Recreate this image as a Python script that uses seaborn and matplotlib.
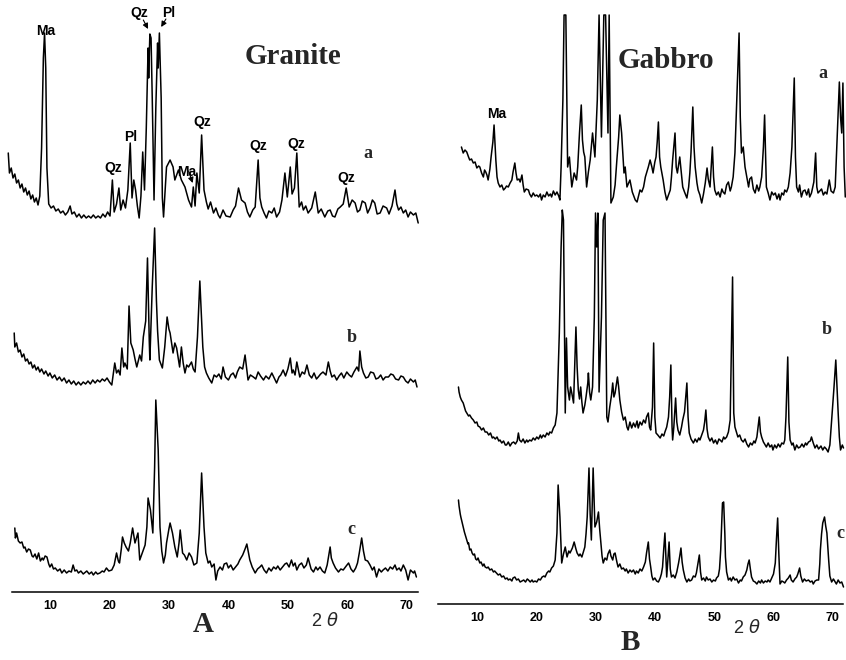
import numpy as np
import pandas as pd
import matplotlib
matplotlib.use("Agg")
import matplotlib.pyplot as plt
import seaborn as sns

# ---------------------------------------------------------------------------
# XRD patterns (2-theta in degrees, intensity in arbitrary recorder units)
# ---------------------------------------------------------------------------
GRANITE_A = [(3.0, 65), (3.2, 45), (3.5, 50), (3.8, 40), (4.1, 44), (4.4, 35), (4.7, 38), (5.0, 30), (5.3, 34), (5.6, 26),
             (5.9, 30), (6.2, 23), (6.5, 27), (6.8, 19), (7.1, 23), (7.4, 16), (7.7, 20), (8.0, 13), (8.3, 22), (8.6, 70),
             (8.9, 160), (9.1, 185), (9.3, 150), (9.5, 50), (9.8, 14), (10.2, 10), (10.6, 12), (11.0, 7), (11.4, 9), (11.8, 5),
             (12.2, 7), (12.6, 3), (13.0, 6), (13.4, 12), (13.7, 4), (14.1, 6), (14.5, 1), (14.9, 4), (15.3, 0), (15.7, 3),
             (16.1, 0), (16.5, 2), (16.9, 0), (17.3, 3), (17.7, 0), (18.1, 2), (18.5, 0), (18.9, 4), (19.3, 1), (19.7, 6),
             (20.1, 2), (20.5, 38), (20.8, 6), (21.2, 14), (21.6, 30), (21.9, 8), (22.3, 18), (22.7, 10), (23.1, 28), (23.5, 75),
             (23.8, 20), (24.1, 38), (24.4, 28), (24.7, 12), (25.0, 0), (25.3, 22), (25.6, 66), (25.9, 28), (26.2, 90), (26.5, 170),
             (26.6, 140), (26.8, 184), (27.0, 180), (27.2, 120), (27.5, 18), (27.8, 110), (28.1, 175), (28.2, 150), (28.4, 185), (28.7, 120),
             (28.9, 20), (29.1, 1),
             (29.6, 51), (30.2, 58), (30.7, 51), (31.0, 38), (31.6, 48), (32.1, 38), (32.7, 31), (33.3, 18), (33.8, 11), (34.1, 31),
             (34.4, 12), (34.7, 45), (35.1, 25), (35.5, 83), (35.9, 28), (36.3, 16), (36.6, 9), (37.0, 16), (37.5, 5), (37.9, 10),
             (38.3, 3), (38.6, 0), (39.1, 8), (39.6, 2), (40.3, 1), (40.8, 8), (41.2, 12), (41.7, 30), (42.2, 18), (42.8, 15),
             (43.2, 6), (43.6, 1), (44.1, 8), (44.5, 11), (45.0, 58), (45.3, 20), (45.6, 11), (46.0, 5), (46.4, 0), (46.8, 7),
             (47.3, 5), (47.7, 10), (48.1, 1), (48.6, 6), (49.0, 18), (49.5, 45), (49.9, 21), (50.4, 51), (50.7, 24), (51.1, 30),
             (51.5, 65), (51.9, 11), (52.3, 16), (52.6, 8), (53.0, 12), (53.4, 5), (54.0, 10), (54.6, 26), (55.1, 5), (55.6, 9),
             (56.2, 1), (56.7, 7), (57.1, 8), (57.5, 2), (57.9, 1), (58.4, 9), (58.8, 11), (59.3, 14), (59.8, 30), (60.3, 11),
             (60.8, 18), (61.3, 15), (61.7, 6), (62.1, 8), (62.5, 17), (63.0, 15), (63.4, 5), (63.8, 10), (64.2, 18), (64.6, 15),
             (65.0, 4), (65.5, 5), (66.0, 12), (66.6, 10), (67.0, 4), (67.5, 12), (68.0, 28), (68.3, 14), (68.6, 8), (69.0, 11),
             (69.4, 5), (69.8, 8), (70.2, 1), (70.6, 6), (71.1, 3), (71.5, 5), (71.9, -5)]

GRANITE_B = [(4.0, 48), (4.1, 34), (4.4, 38), (4.7, 29), (5.0, 31), (5.3, 24), (5.6, 27), (5.9, 20), (6.2, 22), (6.5, 17),
             (6.8, 19), (7.1, 13), (7.4, 16), (7.7, 11), (8.0, 14), (8.3, 9), (8.6, 12), (9.0, 7), (9.3, 10), (9.7, 5),
             (10.0, 8), (10.4, 3), (10.8, 6), (11.2, 1), (11.6, 4), (12.0, 0), (12.4, 3), (12.8, -2), (13.2, 1), (13.6, -3),
             (14.0, 0), (14.4, -4), (14.8, -1), (15.2, -4), (15.6, -1), (16.0, -3), (16.4, 0), (16.8, -3), (17.2, 1), (17.6, -2),
             (18.0, 1), (18.4, -1), (18.8, 2), (19.2, 0), (19.6, 3), (20.0, -1), (20.4, -4), (20.9, 18), (21.2, 8), (21.5, 11),
             (21.8, 6), (22.1, 33), (22.4, 14), (22.6, 18), (23.0, 12), (23.3, 75), (23.6, 38), (24.0, 31), (24.3, 22), (24.6, 14),
             (25.1, 26), (25.4, 20), (25.7, 44), (26.1, 60), (26.4, 123), (26.7, 40), (26.8, 21), (27.2, 94), (27.6, 153), (27.9, 81),
             (28.1, 50), (28.4, 21), (28.9, 13), (29.3, 34), (29.7, 64), (30.0, 52), (30.2, 48), (30.5, 36), (30.7, 28), (31.0, 38),
             (31.3, 33), (31.8, 14), (32.1, 34), (32.4, 18), (32.7, 8), (33.0, 16), (33.3, 14), (33.8, 19), (34.1, 12), (34.4, 9),
             (34.8, 44), (35.2, 100), (35.5, 60), (35.7, 34), (36.0, 14), (36.3, 8), (36.7, 3), (37.2, -2), (37.6, 6), (38.0, 4),
             (38.4, 7), (38.8, 2), (39.1, 14), (39.5, 4), (40.0, 1), (40.4, 6), (40.8, 8), (41.2, 3), (41.5, 9), (41.9, 14),
             (42.4, 12), (42.8, 26), (43.3, 1), (43.7, 6), (44.2, 4), (44.6, 2), (45.0, 9), (45.4, 5), (45.9, 1), (46.3, 5),
             (46.8, 2), (47.3, 8), (47.7, 3), (48.1, -2), (48.5, 4), (48.8, 6), (49.2, 11), (49.6, 5), (50.0, 12), (50.4, 23),
             (50.7, 8), (50.9, 11), (51.2, 6), (51.5, 19), (52.0, 4), (52.4, 9), (52.8, 7), (53.2, 16), (53.6, 6), (54.0, 3),
             (54.4, 8), (54.8, 2), (55.1, 4), (55.5, 7), (55.9, 9), (56.4, 6), (56.8, 19), (57.1, 10), (57.4, 4), (57.8, 6),
             (58.2, 1), (58.6, 5), (59.0, 8), (59.4, 3), (59.9, 9), (60.3, 6), (60.7, 4), (61.1, 9), (61.6, 14), (61.9, 10),
             (62.1, 30), (62.4, 14), (62.7, 8), (63.1, 3), (63.5, 4), (63.9, 9), (64.4, 8), (64.8, 2), (65.2, 3), (65.6, 6),
             (66.0, 1), (66.4, 4), (66.9, 4), (67.3, 7), (67.7, 6), (68.1, 2), (68.6, 1), (69.0, 5), (69.4, 4), (69.8, 0),
             (70.2, -2), (70.6, 2), (71.1, -1), (71.4, 1), (71.7, -6)]

GRANITE_C = [(4.1, 45), (4.2, 35), (4.4, 40), (4.7, 32), (5.0, 30), (5.3, 31), (5.6, 25), (5.8, 26), (6.1, 21), (6.4, 24),
             (6.7, 23), (7.0, 17), (7.2, 16), (7.5, 19), (7.8, 14), (8.1, 20), (8.4, 12), (8.7, 15), (8.9, 13), (9.2, 17),
             (9.5, 16), (9.8, 9), (10.0, 6), (10.3, 9), (10.6, 4), (10.9, 5), (11.3, 2), (11.7, 4), (12.0, 0), (12.4, 3),
             (12.8, 0), (13.2, 2), (13.6, 1), (13.9, 8), (14.2, 2), (14.5, 3), (14.8, 0), (15.2, 2), (15.6, -1), (16.0, 1),
             (16.2, 2), (16.6, -1), (17.0, 1), (17.3, -2), (17.7, 1), (18.0, -1), (18.4, 0), (18.8, 2), (19.1, 1), (19.5, 5),
             (19.9, 2), (20.4, 3), (20.8, 8), (21.2, 20), (21.5, 12), (21.7, 10), (22.0, 24), (22.2, 36), (22.5, 30), (22.8, 26),
             (23.2, 22), (23.5, 30), (23.9, 45), (24.3, 30), (24.8, 40), (25.1, 13), (25.4, 18), (25.7, 23), (26.0, 28), (26.3, 46),
             (26.5, 75), (26.9, 63), (27.3, 40), (27.6, 106), (27.8, 173), (28.2, 123), (28.5, 46), (28.8, 22), (29.1, 10), (29.4, 18),
             (29.6, 30), (30.0, 44), (30.2, 50), (30.6, 40), (31.0, 26), (31.4, 16), (31.7, 30), (31.9, 43), (32.3, 20), (32.6, 18),
             (33.0, 13), (33.4, 20), (33.8, 16), (34.2, 8), (34.7, 10), (35.1, 40), (35.5, 100), (35.9, 46), (36.2, 20), (36.6, 10),
             (36.9, 12), (37.2, 6), (37.6, 9), (37.9, -7), (38.2, 2), (38.6, 6), (39.0, 3), (39.3, 9), (39.7, 10), (40.0, 5),
             (40.4, 8), (40.8, 3), (41.2, 6), (41.6, 9), (41.9, 13), (42.4, 18), (42.8, 24), (43.1, 29), (43.6, 13), (44.0, 6),
             (44.5, 0), (44.9, 4), (45.3, 6), (45.6, 8), (46.0, 3), (46.4, 0), (46.8, 5), (47.2, 2), (47.6, 6), (48.0, 4),
             (48.3, 7), (48.7, 3), (49.1, 6), (49.5, 9), (49.8, 10), (50.2, 6), (50.6, 13), (50.9, 7), (51.2, 10), (51.5, 3),
             (51.9, 8), (52.3, 10), (52.7, 5), (53.1, 8), (53.4, 15), (53.9, 4), (54.3, 1), (54.7, 6), (55.0, 3), (55.4, 6),
             (55.8, 2), (56.2, 0), (56.6, 8), (57.1, 26), (57.3, 15), (57.6, 10), (58.0, 5), (58.5, 1), (58.9, 4), (59.3, 3),
             (59.8, 7), (60.2, 10), (60.6, 4), (61.0, 1), (61.4, 5), (61.7, 10), (62.0, 20), (62.4, 35), (62.7, 22), (63.0, 13),
             (63.4, 12), (63.8, 8), (64.2, 3), (64.5, 6), (64.9, -4), (65.3, 4), (65.7, 1), (66.0, 3), (66.4, 5), (66.8, 2),
             (67.2, 6), (67.6, 4), (68.0, 8), (68.3, 3), (68.7, 5), (69.0, 2), (69.4, 8), (69.8, 3), (70.2, -7), (70.6, 3),
             (71.1, 0), (71.3, 2), (71.6, -4)]

GABBRO_A = [(7.4, 50), (7.7, 44), (8.0, 47), (8.3, 45), (8.6, 40), (8.8, 37), (9.1, 38), (9.4, 34), (9.7, 35), (10.0, 29),
            (10.3, 31), (10.5, 30), (10.8, 24), (11.1, 20), (11.3, 27), (11.5, 25), (11.7, 22), (11.9, 17), (12.2, 28), (12.4, 40),
            (12.7, 55), (12.9, 72), (13.1, 50), (13.2, 37), (13.4, 20), (13.6, 14), (13.9, 10), (14.2, 12), (14.5, 7), (14.8, 9),
            (15.0, 11), (15.3, 10), (15.6, 14), (15.9, 17), (16.1, 25), (16.4, 34), (16.6, 24), (16.8, 17), (17.1, 18), (17.3, 15),
            (17.6, 22), (17.8, 12), (18.0, 5), (18.3, 8), (18.7, 7), (18.9, 3), (19.2, 0), (19.5, 4), (19.8, 1), (20.1, 2),
            (20.4, 0), (20.7, 3), (20.9, -3), (21.2, 2), (21.5, 0), (21.8, 5), (22.1, 1), (22.4, 3), (22.6, 0), (22.9, 6),
            (23.2, 2), (23.5, 5), (23.8, 1), (24.0, -3), (24.2, 30), (24.5, 97), (24.7, 182), (25.0, 182), (25.3, 30), (25.6, 40),
            (26.0, 10), (26.4, 24), (26.8, 17), (27.0, 30), (27.3, 64), (27.6, 92), (27.8, 57), (28.0, 45), (28.2, 40), (28.5, 10),
            (28.8, 25), (29.1, 37), (29.5, 64), (29.9, 40), (30.3, 97), (30.6, 182), (31.0, 60), (31.4, 182), (31.7, 182), (32.1, 64),
            (32.3, 182), (32.6, -6), (33.0, 0), (33.3, 12), (33.6, 37), (33.9, 60), (34.1, 82), (34.4, 64), (34.8, 24), (35.0, 30),
            (35.3, 10), (35.8, 17), (36.2, 5), (36.7, -3), (37.0, -5), (37.3, 2), (37.5, 7), (37.8, 5), (38.1, 10), (38.4, 20),
            (38.6, 24), (38.9, 30), (39.2, 37), (39.5, 30), (39.7, 24), (40.0, 35), (40.2, 40), (40.4, 55), (40.6, 75), (40.8, 40),
            (41.0, 30), (41.4, 17), (41.7, 5), (42.0, -3), (42.3, 2), (42.6, 7), (42.8, 20), (43.0, 37), (43.2, 50), (43.4, 64),
            (43.6, 30), (43.8, 24), (44.0, 32), (44.2, 40), (44.5, 22), (44.7, 10), (45.0, 5), (45.4, -1), (45.7, 10), (45.9, 24),
            (46.1, 45), (46.4, 90), (46.6, 50), (46.8, 30), (47.1, 14), (47.3, 7), (47.6, 2), (47.9, -6), (48.2, 3), (48.5, 14),
            (48.8, 29), (49.0, 18), (49.3, 10), (49.5, 30), (49.7, 50), (49.9, 20), (50.1, 7), (50.4, 2), (50.7, 5), (51.0, 0),
            (51.3, 8), (51.5, 5), (51.8, 3), (52.1, 12), (52.4, 15), (52.7, 6), (52.9, 10), (53.2, 20), (53.5, 44), (53.9, 114),
            (54.2, 164), (54.4, 80), (54.6, 44), (54.9, 50), (55.2, 30), (55.5, 20), (55.8, 10), (56.0, 18), (56.3, 20), (56.6, 8),
            (56.9, 4), (57.2, 12), (57.5, 6), (57.7, 10), (58.0, 20), (58.3, 50), (58.5, 82), (58.8, 10), (59.1, 4), (59.4, -3),
            (59.7, 5), (60.0, 2), (60.3, 4), (60.6, -2), (60.9, 3), (61.1, -3), (61.4, 4), (61.7, 2), (61.9, 7), (62.2, 5),
            (62.5, 10), (62.8, 24), (63.1, 50), (63.5, 119), (63.7, 40), (63.9, 10), (64.2, 5), (64.4, 12), (64.7, 0), (65.0, 6),
            (65.3, 7), (65.6, 2), (65.9, 8), (66.1, 0), (66.4, 4), (66.8, 15), (67.1, 44), (67.3, 10), (67.5, 4), (67.8, 6),
            (68.1, 8), (68.4, 2), (68.7, 5), (69.0, 3), (69.4, 17), (69.7, 6), (70.1, 4), (70.4, 10), (70.6, 40), (70.8, 70),
            (71.1, 115), (71.3, 80), (71.5, 64), (71.7, 114), (71.9, 30), (72.1, 0)]

GABBRO_B = [(6.9, 60), (7.0, 55), (7.2, 50), (7.4, 47), (7.7, 44), (7.9, 40), (8.1, 36), (8.3, 34), (8.6, 31), (8.8, 32),
            (9.1, 29), (9.4, 27), (9.7, 24), (10.0, 25), (10.2, 21), (10.5, 20), (10.8, 17), (11.1, 19), (11.4, 15), (11.7, 15),
            (12.0, 12), (12.3, 14), (12.6, 9), (12.8, 10), (13.1, 8), (13.4, 10), (13.7, 6), (13.9, 7), (14.2, 4), (14.5, 6),
            (14.8, 2), (15.0, 2), (15.3, 5), (15.6, 1), (15.9, 4), (16.2, 5), (16.5, 3), (16.8, 6), (17.0, 14), (17.2, 7),
            (17.5, 5), (17.8, 8), (18.1, 4), (18.4, 7), (18.6, 5), (18.9, 7), (19.2, 6), (19.5, 9), (19.8, 7), (20.1, 10),
            (20.4, 8), (20.7, 12), (20.9, 9), (21.2, 12), (21.5, 10), (21.8, 14), (22.1, 12), (22.3, 15), (22.6, 14), (22.9, 19),
            (23.2, 22), (23.5, 34), (23.9, 114), (24.2, 200), (24.4, 237), (24.6, 227), (24.9, 34), (25.1, 109), (25.3, 60), (25.6, 47),
            (25.8, 60), (26.0, 54), (26.3, 44), (26.7, 120), (26.9, 80), (27.1, 57), (27.3, 48), (27.5, 60), (27.7, 45), (27.9, 34),
            (28.2, 42), (28.4, 50), (28.7, 64), (28.8, 74), (29.0, 55), (29.2, 47), (29.5, 60), (29.8, 130), (30.0, 234), (30.2, 200),
            (30.4, 234), (30.6, 55), (31.0, 130), (31.3, 227), (31.6, 234), (31.9, 30), (32.1, 25), (32.4, 40), (32.7, 52), (32.9, 64),
            (33.1, 50), (33.3, 54), (33.5, 62), (33.7, 70), (33.9, 60), (34.1, 47), (34.4, 35), (34.7, 27), (35.0, 30), (35.3, 20),
            (35.5, 17), (35.8, 25), (36.1, 19), (36.4, 24), (36.7, 20), (37.0, 26), (37.2, 19), (37.5, 25), (37.8, 22), (38.1, 27),
            (38.4, 24), (38.6, 30), (38.9, 34), (39.1, 20), (39.3, 17), (39.6, 40), (39.8, 104), (40.0, 30), (40.2, 14), (40.5, 12),
            (40.9, 9), (41.2, 13), (41.5, 11), (41.7, 15), (42.0, 20), (42.3, 30), (42.5, 50), (42.7, 82), (42.9, 20), (43.0, 7),
            (43.2, 20), (43.5, 49), (43.7, 25), (43.9, 17), (44.2, 12), (44.5, 20), (44.7, 27), (45.0, 35), (45.2, 50), (45.4, 64),
            (45.6, 30), (45.8, 14), (46.1, 8), (46.5, 4), (46.8, 8), (47.1, 5), (47.4, 9), (47.6, 7), (47.9, 12), (48.2, 17),
            (48.4, 25), (48.6, 37), (48.8, 18), (49.0, 10), (49.3, 6), (49.6, 9), (49.9, 4), (50.2, 7), (50.5, 3), (50.8, 8),
            (51.0, 7), (51.3, 5), (51.6, 10), (51.8, 8), (52.1, 10), (52.4, 15), (52.7, 27), (52.9, 97), (53.1, 170), (53.3, 34),
            (53.5, 20), (53.8, 14), (54.0, 10), (54.3, 12), (54.6, 7), (54.9, 5), (55.2, 8), (55.5, 3), (55.8, 0), (56.1, 4),
            (56.4, 2), (56.7, 6), (56.9, 4), (57.2, 10), (57.4, 20), (57.6, 30), (57.8, 15), (58.0, 10), (58.3, 5), (58.5, 3),
            (58.8, 0), (59.1, 4), (59.4, 0), (59.7, 2), (59.9, -3), (60.2, 2), (60.5, -1), (60.8, 3), (61.1, 0), (61.4, 4),
            (61.7, 3), (61.9, 7), (62.1, 30), (62.4, 90), (62.6, 25), (62.8, 7), (63.1, 2), (63.3, 4), (63.6, -3), (63.9, 2),
            (64.2, -1), (64.5, 0), (64.8, 3), (65.1, 0), (65.4, 4), (65.6, 2), (65.9, 5), (66.2, 6), (66.4, 10), (66.7, 4),
            (67.0, -1), (67.3, 2), (67.6, -2), (68.0, 1), (68.3, -3), (68.6, 0), (68.9, -2), (69.2, -5), (69.5, 2), (69.8, 27),
            (70.0, 45), (70.2, 60), (70.5, 87), (70.7, 60), (70.9, 34), (71.1, 10), (71.3, -3), (71.6, 2), (71.8, -1)]

GABBRO_C = [(6.9, 84), (7.0, 78), (7.2, 70), (7.3, 67), (7.5, 62), (7.7, 57), (7.9, 52), (8.1, 48), (8.3, 44), (8.5, 40),
            (8.6, 41), (8.8, 34), (9.0, 35), (9.2, 31), (9.4, 29), (9.6, 30), (9.8, 25), (10.0, 24), (10.2, 26), (10.5, 21),
            (10.7, 22), (11.0, 18), (11.2, 20), (11.4, 17), (11.7, 16), (11.9, 17), (12.2, 14), (12.5, 15), (12.8, 12), (13.0, 13),
            (13.3, 11), (13.6, 9), (13.9, 10), (14.2, 7), (14.5, 8), (14.8, 5), (15.1, 6), (15.3, 4), (15.6, 5), (15.9, 3),
            (16.1, 6), (16.4, 7), (16.7, 4), (17.0, 5), (17.3, 2), (17.6, 3), (17.9, 4), (18.2, 2), (18.5, 5), (18.7, 4),
            (19.0, 2), (19.3, 4), (19.5, 2), (19.8, 3), (20.1, 2), (20.4, 5), (20.7, 4), (21.0, 7), (21.3, 8), (21.5, 7),
            (21.8, 11), (22.1, 13), (22.3, 12), (22.6, 16), (22.9, 18), (23.2, 24), (23.5, 51), (23.7, 99), (24.0, 67), (24.3, 21),
            (24.6, 30), (24.9, 37), (25.2, 27), (25.5, 33), (25.7, 31), (26.1, 36), (26.4, 42), (26.7, 35), (26.9, 31), (27.2, 28),
            (27.4, 30), (27.7, 27), (28.0, 33), (28.2, 37), (28.4, 50), (28.6, 67), (28.9, 116), (29.1, 70), (29.3, 44), (29.6, 116),
            (29.9, 57), (30.2, 62), (30.5, 72), (30.7, 55), (30.9, 41), (31.1, 28), (31.3, 21), (31.6, 26), (31.9, 24), (32.1, 30),
            (32.4, 34), (32.6, 28), (32.9, 24), (33.1, 30), (33.3, 31), (33.6, 22), (33.8, 17), (34.1, 20), (34.4, 15), (34.7, 16),
            (35.0, 13), (35.2, 15), (35.5, 11), (35.8, 14), (36.1, 12), (36.4, 14), (36.7, 10), (36.9, 13), (37.2, 11), (37.5, 15),
            (37.8, 13), (38.1, 17), (38.4, 22), (38.6, 31), (38.9, 42), (39.1, 25), (39.3, 17), (39.5, 8), (39.7, 4), (40.0, 6),
            (40.3, 3), (40.6, 2), (40.9, 6), (41.1, 10), (41.3, 17), (41.5, 35), (41.7, 51), (41.9, 20), (42.0, 7), (42.2, 25),
            (42.4, 42), (42.6, 15), (42.8, 7), (43.1, 9), (43.4, 6), (43.7, 12), (44.0, 21), (44.2, 28), (44.4, 36), (44.6, 22),
            (44.8, 14), (45.1, 6), (45.4, 2), (45.7, 5), (45.9, 3), (46.2, 4), (46.5, 8), (46.8, 7), (47.0, 11), (47.2, 18),
            (47.5, 29), (47.7, 12), (47.9, 4), (48.2, 6), (48.5, 3), (48.7, 7), (49.0, 4), (49.3, 5), (49.6, 2), (49.9, 4),
            (50.2, 3), (50.4, 6), (50.7, 8), (50.9, 15), (51.1, 34), (51.3, 65), (51.4, 81), (51.6, 82), (51.8, 50), (51.9, 27),
            (52.1, 12), (52.4, 4), (52.7, 6), (52.9, 3), (53.2, 7), (53.5, 4), (53.8, 5), (54.1, 1), (54.4, 4), (54.6, 3),
            (54.9, 7), (55.2, 9), (55.5, 14), (55.7, 20), (55.9, 24), (56.1, 15), (56.3, 7), (56.6, 3), (56.9, 2), (57.2, 0),
            (57.5, 3), (57.8, 1), (58.0, 4), (58.3, 1), (58.6, 3), (58.9, 2), (59.1, 4), (59.4, 2), (59.7, 6), (60.0, 10),
            (60.3, 21), (60.5, 45), (60.7, 66), (60.9, 30), (61.1, 0), (61.4, 3), (61.7, 2), (61.9, 1), (62.2, 4), (62.5, 6),
            (62.8, 9), (63.0, 4), (63.3, 2), (63.6, 5), (63.9, 7), (64.1, 10), (64.4, 16), (64.6, 8), (64.9, 2), (65.2, 5),
            (65.5, 3), (65.9, 4), (66.2, 2), (66.5, 3), (66.7, 0), (67.0, 3), (67.3, 4), (67.6, 4), (67.8, 20), (67.9, 34),
            (68.1, 50), (68.3, 61), (68.6, 67), (68.8, 58), (69.0, 51), (69.3, 24), (69.5, 8), (69.8, 2), (70.1, 5), (70.3, 3),
            (70.6, 0), (70.9, 4), (71.2, 1), (71.5, 2), (71.8, -3)]

# vertical stacking offset of each pattern within its panel
GRANITE_OFFSETS = {"a": 374, "b": 211, "c": 19}
GABBRO_OFFSETS = {"a": 407, "b": 157, "c": 20}

TICKS = [10, 20, 30, 40, 50, 60, 70]
TICK_LABELS = ["10", "20", "30", "40", "50", "60", "70"]

# mineral labels: (text, 2-theta, height in panel units)
GRANITE_PEAK_LABELS = [("Ma", 9.35, 561), ("Qz", 25.0, 579), ("Pl", 30.0, 579), ("Pl", 23.5, 455),
                       ("Qz", 20.6, 424), ("Ma", 33.0, 420), ("Qz", 35.6, 470), ("Qz", 45.1, 446),
                       ("Qz", 51.4, 448), ("Qz", 59.8, 414)]
GABBRO_PEAK_LABELS = [("Ma", 13.4, 490)]

# ---------------------------------------------------------------------------
def to_frame(patterns, offsets):
    rows = []
    for name, pts in patterns.items():
        theta, counts = np.array(pts, dtype=float).T
        rows.append(pd.DataFrame({"theta": theta, "counts": counts,
                                  "stacked": counts + offsets[name], "trace": name}))
    return pd.concat(rows, ignore_index=True)


granite = to_frame({"a": GRANITE_A, "b": GRANITE_B, "c": GRANITE_C}, GRANITE_OFFSETS)
gabbro = to_frame({"a": GABBRO_A, "b": GABBRO_B, "c": GABBRO_C}, GABBRO_OFFSETS)

sns.set_style("white")
plt.rcParams["font.family"] = ["Liberation Sans", "DejaVu Sans"]
plt.rcParams["mathtext.fontset"] = "dejavusans"

W, H = 846, 660
fig = plt.figure(figsize=(W / 100, H / 100), dpi=100)


def add_axes_px(left, right, top, bottom):
    return fig.add_axes([left / W, 1 - bottom / H, (right - left) / W, (bottom - top) / H])


ax_g = add_axes_px(6, 422, 0, 592)
ax_b = add_axes_px(432, 846, 0, 604)

for ax, df, xlim, ylim, bounds in [
    (ax_g, granite, (2.62, 72.54), (0, 592), (3.6, 71.8)),
    (ax_b, gabbro, (2.44, 72.22), (0, 604), (3.45, 71.7)),
]:
    sns.lineplot(data=df, x="theta", y="stacked", units="trace", estimator=None, sort=False,
                 color="black", linewidth=1.1, ax=ax, legend=False)
    ax.set_xlim(*xlim)
    ax.set_ylim(*ylim)
    ax.set_xlabel("")
    ax.set_ylabel("")
    ax.set_yticks([])
    ax.set_xticks(TICKS)
    ax.set_xticklabels(TICK_LABELS, fontsize=9, fontweight="bold")
    ax.tick_params(axis="x", direction="in", length=4, width=1.0, pad=6, colors="black")
    for side in ("left", "right", "top"):
        ax.spines[side].set_visible(False)
    ax.spines["bottom"].set_bounds(*bounds)
    ax.spines["bottom"].set_linewidth(1.1)
    ax.spines["bottom"].set_color("black")
    ax.patch.set_alpha(0)

serif = ["Liberation Serif", "DejaVu Serif"]
label_kw = dict(ha="center", va="center", fontsize=10, fontweight="bold", color="black")

for text, th, y in GRANITE_PEAK_LABELS:
    ax_g.text(th, y, text, **label_kw)
for text, th, y in GABBRO_PEAK_LABELS:
    ax_b.text(th, y, text, **label_kw)


def peak_top(pts, lo, hi, offset):
    arr = np.array(pts, dtype=float)
    sel = arr[(arr[:, 0] >= lo) & (arr[:, 0] <= hi)]
    i = np.argmax(sel[:, 1])
    return sel[i, 0], sel[i, 1] + offset


arrow = dict(arrowstyle="-|>", mutation_scale=8, lw=0.8, color="black", shrinkA=0, shrinkB=0)
qz_th, qz_y = peak_top(GRANITE_A, 26.0, 27.3, GRANITE_OFFSETS["a"])
pl_th, pl_y = peak_top(GRANITE_A, 27.6, 29.0, GRANITE_OFFSETS["a"])
ma_th, ma_y = peak_top(GRANITE_A, 33.5, 34.3, GRANITE_OFFSETS["a"])
ax_g.annotate("", xy=(qz_th - 0.3, qz_y + 5), xytext=(qz_th - 1.1, qz_y + 14), arrowprops=arrow)
ax_g.annotate("", xy=(pl_th + 0.3, pl_y + 6), xytext=(pl_th + 1.1, pl_y + 14), arrowprops=arrow)
ax_g.annotate("", xy=(ma_th - 0.1, ma_y + 4), xytext=(ma_th - 0.8, ma_y + 16), arrowprops=arrow)

# panel titles and trace letters
ax_g.text(50.85, 535, "Granite", ha="center", va="center", fontsize=21, fontweight="bold", family=serif)
ax_b.text(41.9, 543, "Gabbro", ha="center", va="center", fontsize=21, fontweight="bold", family=serif)

trace_kw = dict(ha="center", va="center", fontsize=13, fontweight="bold", family=serif)
ax_g.text(63.5, 438, "a", **trace_kw)
ax_g.text(60.8, 255, "b", **trace_kw)
ax_g.text(60.6, 63, "c", **trace_kw)
ax_b.text(68.3, 531, "a", **trace_kw)
ax_b.text(69.0, 274, "b", **trace_kw)
ax_b.text(71.3, 71, "c", **trace_kw)

# panel letters and axis captions
fig.text(203 / W, 1 - 624 / H, "A", ha="center", va="center", fontsize=21, fontweight="bold", family=serif)
fig.text(630 / W, 1 - 643 / H, "B", ha="center", va="center", fontsize=21, fontweight="bold", family=serif)
fig.text(325 / W, 1 - 621 / H, r"2 $\theta$", ha="center", va="center", fontsize=13)
fig.text(747 / W, 1 - 628 / H, r"2 $\theta$", ha="center", va="center", fontsize=13)

fig.savefig("out.png", dpi=100, facecolor="white")
